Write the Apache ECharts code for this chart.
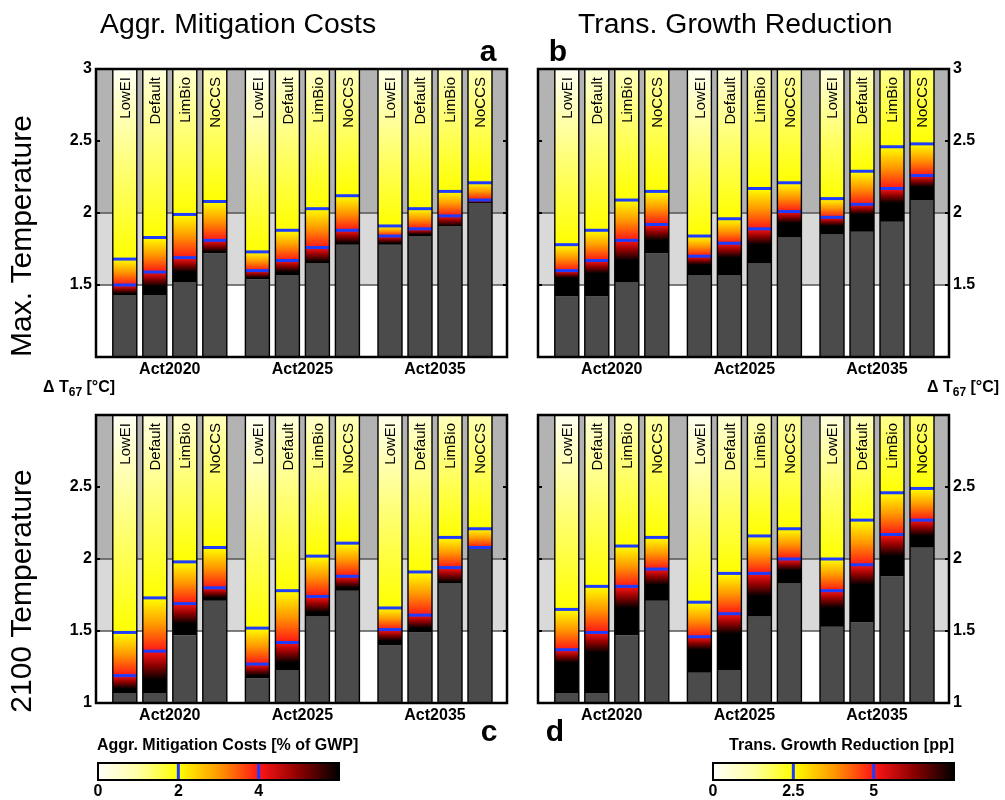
<!DOCTYPE html>
<html><head><meta charset="utf-8">
<script src="https://cdn.jsdelivr.net/npm/echarts@6/dist/echarts.min.js"></script>
<style>html,body{margin:0;padding:0;background:#fff}#c{width:1005px;height:800px}</style>
</head><body><div id="c"></div>
<script>
// ---------- data ----------
const groups = ['Act2020', 'Act2025', 'Act2035'];
const scenarios = ['LowEI', 'Default', 'LimBio', 'NoCCS'];
const bandEdges = [1, 1.5, 2, 3];
const costTicks = [0, 2, 4];        // Aggr. Mitigation Costs colorbar ticks (% of GWP)
const growthTicks = [0, 2.5, 5];    // Trans. Growth Reduction colorbar ticks (pp)
const costMax = 6;
const growthMax = 7.5;

// Panel a (Max. Temperature, costs): grey top, black start, level at cost 4, level at cost 2, cost at 3°C
const a_grey  = [1.43, 1.43, 1.52, 1.72, 1.54, 1.57, 1.65, 1.78, 1.78, 1.84, 1.91, 2.07];
const a_black = [1.44, 1.49, 1.59, 1.73, 1.55, 1.59, 1.66, 1.79, 1.79, 1.85, 1.91, 2.07];
const a_cost4 = [1.50, 1.59, 1.69, 1.81, 1.60, 1.67, 1.76, 1.88, 1.84, 1.89, 1.98, 2.09];
const a_cost2 = [1.68, 1.83, 1.99, 2.08, 1.73, 1.88, 2.03, 2.12, 1.91, 2.03, 2.15, 2.21];
const a_top   = [0.06, 0.35, 0.5, 0.7, 0.06, 0.4, 0.6, 0.7, 0.2, 0.45, 0.7, 0.8];

// Panel b (Max. Temperature, growth reduction): levels at 5 pp and 2.5 pp
const b_grey   = [1.42, 1.42, 1.52, 1.72, 1.57, 1.57, 1.65, 1.83, 1.85, 1.87, 1.94, 2.09];
const b_black  = [1.55, 1.58, 1.67, 1.81, 1.64, 1.69, 1.78, 1.93, 1.91, 1.99, 2.07, 2.18];
const b_grow5  = [1.60, 1.67, 1.81, 1.92, 1.70, 1.79, 1.89, 2.01, 1.97, 2.06, 2.17, 2.26];
const b_grow25 = [1.78, 1.88, 2.09, 2.15, 1.84, 1.96, 2.17, 2.21, 2.10, 2.29, 2.46, 2.48];
const b_top    = [0.1, 0.5, 0.9, 1.2, 0.1, 0.5, 0.9, 1.2, 0.4, 0.9, 1.4, 1.6];

// Panel c (2100 Temperature, costs)
const c_grey  = [1.07, 1.07, 1.47, 1.71, 1.17, 1.23, 1.60, 1.78, 1.40, 1.49, 1.83, 2.07];
const c_black = [1.10, 1.16, 1.55, 1.73, 1.19, 1.28, 1.63, 1.80, 1.43, 1.52, 1.84, 2.07];
const c_cost4 = [1.19, 1.36, 1.69, 1.80, 1.27, 1.42, 1.74, 1.88, 1.51, 1.61, 1.94, 2.08];
const c_cost2 = [1.49, 1.73, 1.98, 2.08, 1.52, 1.78, 2.02, 2.11, 1.66, 1.91, 2.15, 2.21];
const c_top   = [0.05, 0.3, 0.5, 0.7, 0.05, 0.35, 0.55, 0.7, 0.15, 0.4, 0.7, 0.8];

// Panel d (2100 Temperature, growth reduction)
const d_grey   = [1.07, 1.07, 1.47, 1.71, 1.21, 1.23, 1.60, 1.83, 1.53, 1.56, 1.88, 2.08];
const d_black  = [1.28, 1.35, 1.66, 1.82, 1.37, 1.48, 1.74, 1.92, 1.66, 1.82, 2.02, 2.16];
const d_grow5  = [1.37, 1.49, 1.81, 1.93, 1.46, 1.62, 1.90, 2.00, 1.78, 1.96, 2.17, 2.27];
const d_grow25 = [1.65, 1.81, 2.09, 2.15, 1.70, 1.90, 2.16, 2.21, 2.00, 2.27, 2.46, 2.49];
const d_top    = [0.1, 0.5, 0.9, 1.2, 0.1, 0.5, 0.9, 1.2, 0.4, 0.9, 1.4, 1.6];

// ---------- styling / layout ----------
const FONT = 'Liberation Sans, Arial, sans-serif';
const Y_MIN = 1, Y_MAX = 3;
const X_MIN = -0.96, X_MAX = 12.74, GROUP_STEP = 4.42, BAR_W = 0.8;
const bandColors = ['#ffffff', '#d9d9d9', '#b3b3b3'];
const BLUE = '#1e3cff';
const GREY = '#4b4b4b';
const cmapStops = [
  [0, [255, 255, 250]], [1/6, [255, 255, 165]], [1/3, [255, 255, 0]], [1/2, [255, 153, 0]],
  [2/3, [255, 22, 22]], [5/6, [140, 0, 0]], [1, [0, 0, 0]]
];
function cmap(u) {
  u = Math.max(0, Math.min(1, u));
  for (let i = 1; i < cmapStops.length; i++) {
    const [u1, c1] = cmapStops[i], [u0, c0] = cmapStops[i - 1];
    if (u <= u1) {
      const t = (u - u0) / (u1 - u0);
      const c = c0.map((v, k) => Math.round(v + (c1[k] - v) * t));
      return 'rgb(' + c.join(',') + ')';
    }
  }
  return 'rgb(0,0,0)';
}

const panels = [
  { left: 96, top: 69, grey: a_grey, black: a_black, lo: a_cost4, hi: a_cost2, topv: a_top, max: costMax, side: 'left', hide: 1 },
  { left: 538, top: 69, grey: b_grey, black: b_black, lo: b_grow5, hi: b_grow25, topv: b_top, max: growthMax, side: 'right', hide: 1 },
  { left: 96, top: 415, grey: c_grey, black: c_black, lo: c_cost4, hi: c_cost2, topv: c_top, max: costMax, side: 'left', hide: 3 },
  { left: 538, top: 415, grey: d_grey, black: d_black, lo: d_grow5, hi: d_grow25, topv: d_top, max: growthMax, side: 'right', hide: 3 }
];

const groupCenters = groups.map((g, gi) => gi * GROUP_STEP + 1.5);

const grid = [], xAxis = [], yAxis = [], series = [];
panels.forEach((p, k) => {
  grid.push({ left: p.left, top: p.top, width: 411, height: 288, show: true, z: 10,
    borderColor: '#000', borderWidth: 2.5, backgroundColor: 'rgba(0,0,0,0)' });
  xAxis.push({ gridIndex: k, type: 'value', min: X_MIN, max: X_MAX, z: 11,
    axisLine: { show: false, onZero: false }, axisTick: { show: false }, splitLine: { show: false },
    axisLabel: { customValues: groupCenters, margin: 5, color: '#000', fontWeight: 'bold', fontSize: 16, fontFamily: FONT,
      formatter: v => groups[Math.round((v - 1.5) / GROUP_STEP)] } });
  const other = p.side === 'left' ? 'right' : 'left';
  [p.side, other].forEach((pos, j) => {
    yAxis.push({ gridIndex: k, type: 'value', min: Y_MIN, max: Y_MAX, interval: 0.5, position: pos, z: 11,
      axisLine: { show: false, onZero: false }, splitLine: { show: false },
      axisTick: { show: true, inside: true, length: 4, lineStyle: { color: '#000', width: 2 } },
      axisLabel: { show: j === 0, margin: 4, color: '#000', fontWeight: 'bold', fontSize: 16, fontFamily: FONT,
        formatter: v => (Math.abs(v - p.hide) < 1e-9 ? '' : String(v)) } });
  });
  // background bands
  const bands = [];
  for (let i = 0; i < bandEdges.length - 1; i++) bands.push([bandEdges[i], bandEdges[i + 1]]);
  series.push({ type: 'custom', xAxisIndex: k, yAxisIndex: 2 * k, z: 1, silent: true,
    data: bands, encode: { y: [0, 1] },
    renderItem: (params, api) => {
      const cs = params.coordSys;
      const y0 = api.coord([0, api.value(0)])[1], y1 = api.coord([0, api.value(1)])[1];
      const ch = [{ type: 'rect', shape: { x: cs.x, y: y1, width: cs.width, height: y0 - y1 }, style: { fill: bandColors[params.dataIndex] } }];
      if (api.value(0) > Y_MIN) ch.push({ type: 'line', shape: { x1: cs.x, y1: y0, x2: cs.x + cs.width, y2: y0 }, style: { stroke: '#555', lineWidth: 1.5 } });
      return { type: 'group', children: ch };
    } });
  // bars
  const data = [];
  p.grey.forEach((g, i) => {
    const gi = Math.floor(i / 4), si = i % 4;
    data.push([gi * GROUP_STEP + si, g, p.black[i], p.lo[i], p.hi[i], p.topv[i], si]);
  });
  series.push({ type: 'custom', xAxisIndex: k, yAxisIndex: 2 * k, z: 3, silent: true,
    data: data, encode: { x: 0, y: 1 },
    renderItem: (params, api) => {
      const x = api.value(0), grey = api.value(1), blk = api.value(2), lo = api.value(3), hi = api.value(4), tc = api.value(5), si = api.value(6);
      const w = api.size([BAR_W, 0])[0];
      const pb = api.coord([x, Y_MIN]), pt = api.coord([x, Y_MAX]), pg = api.coord([x, grey]);
      const x0 = pb[0] - w / 2;
      const span = Y_MAX - grey;
      const off = T => Math.max(0, Math.min(1, (Y_MAX - T) / span));
      const stops = [
        { offset: 0, color: cmap(tc / p.max) },
        { offset: off(hi), color: cmap(1 / 3) },
        { offset: off((hi + lo) / 2), color: cmap(1 / 2) },
        { offset: off(lo), color: cmap(2 / 3) },
        { offset: off((lo + blk) / 2), color: cmap(5 / 6) },
        { offset: off(blk), color: cmap(1) },
        { offset: 1, color: cmap(1) }
      ];
      const ylo = api.coord([x, lo])[1], yhi = api.coord([x, hi])[1];
      return { type: 'group', children: [
        { type: 'rect', shape: { x: x0, y: pg[1], width: w, height: pb[1] - pg[1] }, style: { fill: GREY } },
        { type: 'rect', shape: { x: x0, y: pt[1], width: w, height: pg[1] - pt[1] },
          style: { fill: new echarts.graphic.LinearGradient(0, 0, 0, 1, stops) } },
        { type: 'rect', shape: { x: x0, y: ylo - 1.5, width: w, height: 3 }, style: { fill: BLUE } },
        { type: 'rect', shape: { x: x0, y: yhi - 1.5, width: w, height: 3 }, style: { fill: BLUE } },
        { type: 'rect', shape: { x: x0, y: pt[1], width: w, height: pb[1] - pt[1] }, style: { fill: null, stroke: '#000', lineWidth: 1.4 } },
        { type: 'text', x: pb[0] + 1, y: pt[1] + 8, rotation: Math.PI / 2,
          style: { text: scenarios[si], fill: '#000', font: '15px ' + FONT, align: 'right', verticalAlign: 'middle' } }
      ] };
    } });
});

// colorbars
const cbs = [
  { left: 98, max: costMax, ticks: costTicks },
  { left: 713, max: growthMax, ticks: growthTicks }
];
cbs.forEach((cb, j) => {
  const k = 4 + j;
  grid.push({ left: cb.left, top: 763, width: 241, height: 18, show: true, z: 10,
    borderColor: '#000', borderWidth: 2, backgroundColor: 'rgba(0,0,0,0)' });
  xAxis.push({ gridIndex: k, type: 'value', min: 0, max: cb.max, z: 11,
    axisLine: { show: false, onZero: false }, axisTick: { show: false }, splitLine: { show: false },
    axisLabel: { customValues: cb.ticks, margin: 4, color: '#000', fontWeight: 'bold', fontSize: 16, fontFamily: FONT,
      formatter: v => String(v) } });
  yAxis.push({ gridIndex: k, type: 'value', min: 0, max: 1, show: false });
  series.push({ type: 'custom', xAxisIndex: k, yAxisIndex: yAxis.length - 1, z: 3, silent: true,
    data: [[0, cb.max]], encode: { x: [0, 1] },
    renderItem: (params, api) => {
      const a = api.coord([api.value(0), 0]), b = api.coord([api.value(1), 1]);
      const stops = cmapStops.map(s => ({ offset: s[0], color: cmap(s[0]) }));
      const ch = [{ type: 'rect', shape: { x: a[0], y: b[1], width: b[0] - a[0], height: a[1] - b[1] },
        style: { fill: new echarts.graphic.LinearGradient(0, 0, 1, 0, stops) } }];
      cb.ticks.filter(t => t > 0).forEach(t => {
        const q = api.coord([t, 0]);
        ch.push({ type: 'rect', shape: { x: q[0] - 1.5, y: b[1], width: 3, height: a[1] - b[1] }, style: { fill: BLUE } });
      });
      return { type: 'group', children: ch };
    } });
});

const txt = (text, x, y, font, extra) => Object.assign({ type: 'text', x, y, z: 20,
  style: { text, font, fill: '#000', align: 'left', verticalAlign: 'middle', textAlign: 'left', textVerticalAlign: 'middle' } }, extra || {});
const dT = (x) => ({ type: 'text', x, y: 388, z: 20,
  style: { text: '{n|Δ T}{s|67}{n| [°C]}', fill: '#000', align: 'left', verticalAlign: 'middle',
    rich: { n: { font: 'bold 16px ' + FONT, fill: '#000' }, s: { font: 'bold 12px ' + FONT, fill: '#000', padding: [9, 0, 0, 0] } } } });
const rot = (text, x, y) => ({ type: 'text', x, y, z: 20, rotation: Math.PI / 2,
  style: { text, font: '30px ' + FONT, fill: '#000', align: 'center', verticalAlign: 'middle' } });
const letter = (text, x, y) => ({ type: 'text', x, y, z: 20,
  style: { text, font: 'bold 30px ' + FONT, fill: '#000', align: 'center', verticalAlign: 'middle' } });

const graphic = [
  txt('Aggr. Mitigation Costs', 100, 25, '28.4px ' + FONT),
  txt('Trans. Growth Reduction', 578, 25, '28.4px ' + FONT),
  rot('Max. Temperature', 23, 236),
  rot('2100 Temperature', 23, 591),
  letter('a', 488, 53), letter('b', 558, 53), letter('c', 489, 733), letter('d', 555, 733),
  dT(43), dT(927),
  txt('Aggr. Mitigation Costs [% of GWP]', 97, 746, 'bold 16px ' + FONT),
  { type: 'text', x: 954, y: 746, z: 20, style: { text: 'Trans. Growth Reduction [pp]', font: 'bold 16px ' + FONT, fill: '#000', align: 'right', verticalAlign: 'middle' } }
];

const chart = echarts.init(document.getElementById('c'), null, { renderer: 'canvas' });
chart.setOption({ animation: false, backgroundColor: '#fff', grid, xAxis, yAxis, series, graphic });
</script></body></html>
